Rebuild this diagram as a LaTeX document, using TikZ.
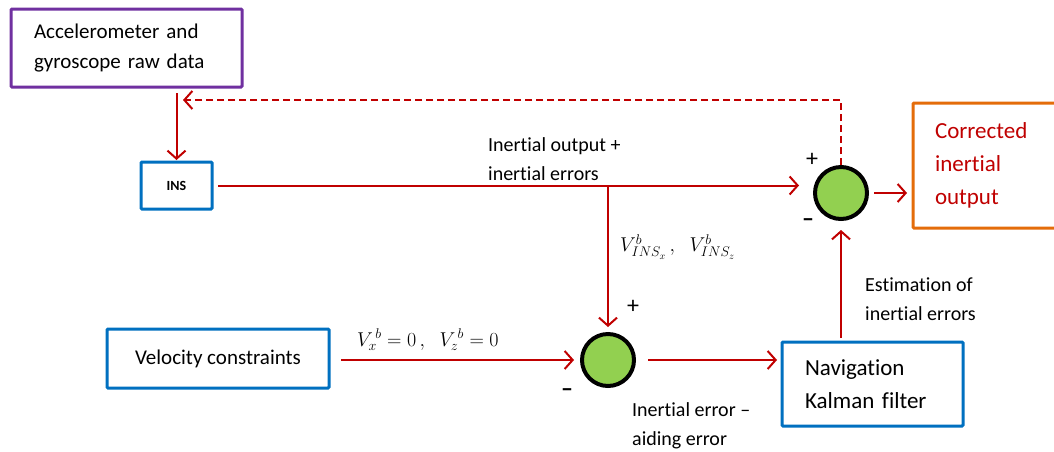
\documentclass[tikz,border=0pt]{standalone}
\usepackage{fix-cm}
\usepackage{fontspec}
\setmainfont{Carlito}[Ligatures=NoCommon]
\usetikzlibrary{arrows.meta,positioning}
\definecolor{ared}{HTML}{C00000}
\definecolor{bblue}{HTML}{0070C0}
\definecolor{ppurple}{HTML}{7030A0}
\definecolor{oorange}{HTML}{E46C0A}
\definecolor{ggreen}{HTML}{92D050}
\tikzset{
  box/.style={draw, line width=3pt, rectangle, rounded corners=1pt, fill=white, outer sep=0pt},
  sumnode/.style={circle, draw=black, line width=4pt, fill=ggreen, minimum size=52pt, inner sep=0pt, outer sep=2pt},
  arr/.style={draw=ared, line width=2pt, -{Straight Barb[length=8pt,width=18pt,line width=2pt]}},
  lbl/.style={inner sep=0pt, align=left, anchor=west, font=\fontsize{20}{29}\selectfont},
  sgn/.style={inner sep=0pt, font=\fontsize{24}{24}\selectfont}
}
\begin{document}
\begin{tikzpicture}[x=1pt,y=-1pt]
\useasboundingbox (0,0) rectangle (1054,451);
\begin{scope}
\clip (0,0) rectangle (1054,451);
% boxes
\node[box, draw=ppurple, anchor=west, minimum width=231pt, minimum height=78pt,
      inner xsep=23pt, text width=185pt, align=left, font=\fontsize{21}{30}\selectfont] (acc) at (11,48)
      {Accelerometer and\\gyroscope raw data};
\node[box, draw=bblue, minimum width=71pt, minimum height=47pt,
      font=\bfseries\fontsize{14}{16}\selectfont] (ins) at (176.5,185.5) {INS};
\node[box, draw=bblue, minimum width=222pt, minimum height=59pt,
      font=\fontsize{21}{30}\selectfont] (vel) at (218,358.5) {Velocity constraints};
\node[box, draw=bblue, anchor=west, minimum width=181pt, minimum height=84pt,
      inner xsep=23pt, text width=135pt, align=left, font=\fontsize{23}{33}\selectfont] (nav) at (782,384)
      {Navigation\\Kalman filter};
\node[box, draw=oorange, anchor=west, minimum width=170pt, minimum height=125pt,
      inner xsep=22pt, text width=126pt, align=left, text=ared, font=\fontsize{23}{33}\selectfont] (out) at (913,165.5)
      {Corrected\\inertial\\output};
% summing junctions
\node[sumnode] (c1) at (841,193) {};
\node[sumnode] (c2) at (608,360) {};
% helper coordinates
\coordinate (fb) at (183,100);
% connectors
\draw[arr, shorten <=6pt, shorten >=2pt] (acc.south -| ins.north) -- (ins.north);
\draw[arr, shorten <=6pt, shorten >=14pt] (ins.east) -- (ins.east -| c1.west);
\draw[arr, dashed, dash pattern=on 7pt off 4pt] (c1.north) |- (fb);
\draw[arr, shorten >=5pt] (c2.north |- ins.east) -- (c2.north);
\draw[arr, shorten <=12pt, shorten >=6pt] (vel.east |- c2.west) -- (c2.west);
\draw[arr, shorten <=12pt, shorten >=5pt] (c2.east) -- (nav.west |- c2.east);
\draw[arr, shorten <=4pt, shorten >=9pt] (nav.north -| c1.south) -- (c1.south);
\draw[arr, shorten <=5pt, shorten >=6pt] (c1.east) -- (c1.east -| out.west);
% labels
\node[lbl] (l1) at (488,159.5) {Inertial output +\\inertial errors};
\node[lbl] (l2) at (620,247) {$V^{b}_{INS_x}\,,\;\;V^{b}_{INS_z}$};
\node[lbl] (l3) at (357,340) {$V_x^{\,b}=0\,,\;\;V_z^{\,b}=0$};
\node[lbl] (l4) at (865,299.5) {Estimation of\\inertial errors};
\node[lbl] (l5) at (632,426) {Inertial error –\\aiding error};
\node[sgn] (p1) at (812,160) {+};
\node[sgn] (m1) at (808,223) {\bfseries –};
\node[sgn] (p2) at (633,307) {+};
\node[sgn] (m2) at (567,393) {\bfseries –};
\end{scope}
\end{tikzpicture}
\end{document}
